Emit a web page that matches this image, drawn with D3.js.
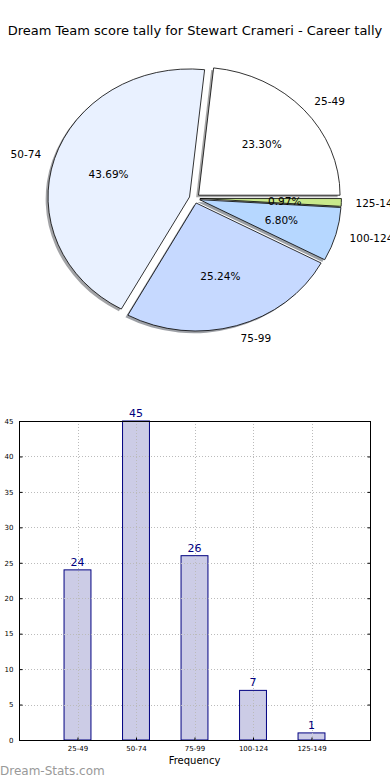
<!DOCTYPE html>
<html>
<head>
<meta charset="utf-8">
<script src="https://cdn.jsdelivr.net/npm/d3@7"></script>
<style>
  body { margin: 0; background: #fff; }
  text { font-family: "DejaVu Sans", sans-serif; }
</style>
</head>
<body>
<div id="chart"></div>
<script>
// data
const title = "Dream Team score tally for Stewart Crameri - Career tally";
const ranges = ["25-49", "50-74", "75-99", "100-124", "125-149"];
const counts = [24, 45, 26, 7, 1];
const pieColors = ["#ffffff", "#e9f1ff", "#c6d9ff", "#b6d7ff", "#c9e98c"];
const yTicks = [0, 5, 10, 15, 20, 25, 30, 35, 40, 45];

const W = 390, H = 780;
const svg = d3.select("#chart")
  .append("svg")
    .attr("width", W)
    .attr("height", H);

svg.append("text")
  .attr("x", W / 2)
  .attr("y", 35)
  .attr("text-anchor", "middle")
  .attr("font-size", 13)
  .text(title);

// ---- pie (matplotlib style: starts at 3 o'clock, counter clockwise, elliptical)
const cx = 194.6, cy = 198.4, rx = 141.5, ry = 128, explode = 0.0375;
const total = d3.sum(counts);

const pie = d3.pie()
  .sort(null)
  .startAngle(Math.PI / 2)
  .endAngle(Math.PI / 2 - 2 * Math.PI);
const arcs = pie(counts);
const arc = d3.arc().innerRadius(0).outerRadius(rx);

// point at angle a (d3 convention) and radius fraction k, on the ellipse
const pos = (a, k) => [cx + k * rx * Math.sin(a), cy - k * ry * Math.cos(a)];

const gPie = svg.append("g");

// shadows first
arcs.forEach((d, i) => {
  const mid = (d.startAngle + d.endAngle) / 2;
  const [ox, oy] = pos(mid, explode);
  const c = d3.rgb(pieColors[i]);
  const sc = d3.rgb(c.r * 0.3, c.g * 0.3, c.b * 0.3);
  gPie.append("path")
    .attr("d", arc(d))
    .attr("transform", `translate(${ox - 0.017 * rx},${oy + 0.017 * ry}) scale(1,${ry / rx})`)
    .attr("fill", sc)
    .attr("fill-opacity", 0.5)
    .attr("stroke", "none");
});

arcs.forEach((d, i) => {
  const mid = (d.startAngle + d.endAngle) / 2;
  const [ox, oy] = pos(mid, explode);
  gPie.append("path")
    .attr("d", arc(d))
    .attr("transform", `translate(${ox},${oy}) scale(1,${ry / rx})`)
    .attr("fill", pieColors[i])
    .attr("stroke", "#000")
    .attr("stroke-width", 0.8)
    .attr("vector-effect", "non-scaling-stroke");
});

// labels
arcs.forEach((d, i) => {
  const mid = (d.startAngle + d.endAngle) / 2;
  const [lx, ly] = pos(mid, 1.1 + explode);
  svg.append("text")
    .attr("x", lx)
    .attr("y", ly)
    .attr("dy", "0.35em")
    .attr("text-anchor", Math.sin(mid) > 0 ? "start" : "end")
    .attr("font-size", 10.5)
    .text(ranges[i]);
  const [px, py] = pos(mid, 0.6 + explode);
  svg.append("text")
    .attr("x", px)
    .attr("y", py)
    .attr("dy", "0.35em")
    .attr("text-anchor", "middle")
    .attr("font-size", 10.5)
    .text((d.value / total * 100).toFixed(2) + "%");
});

// ---- bar chart
const m = {left: 19, right: 370, top: 421, bottom: 740};
const x = d3.scaleLinear().domain([-1, 5]).range([m.left, m.right]);
const y = d3.scaleLinear().domain([0, 45]).range([m.bottom, m.top]);
const barW = 0.46;

const gBar = svg.append("g");

gBar.selectAll("rect.bar")
  .data(counts)
  .join("rect")
    .attr("class", "bar")
    .attr("x", (d, i) => x(i - barW / 2))
    .attr("y", d => y(d))
    .attr("width", x(barW) - x(0))
    .attr("height", d => y(0) - y(d))
    .attr("fill", "#ccccE6")
    .attr("stroke", "#000080")
    .attr("stroke-width", 1);

// grid
gBar.selectAll("line.hgrid")
  .data(yTicks)
  .join("line")
    .attr("x1", m.left).attr("x2", m.right)
    .attr("y1", d => Math.round(y(d)) + 0.5)
    .attr("y2", d => Math.round(y(d)) + 0.5)
    .attr("stroke", "#bbb")
    .attr("stroke-dasharray", "1,2");
gBar.selectAll("line.vgrid")
  .data(ranges)
  .join("line")
    .attr("x1", (d, i) => Math.round(x(i)) + 0.5)
    .attr("x2", (d, i) => Math.round(x(i)) + 0.5)
    .attr("y1", m.top).attr("y2", m.bottom)
    .attr("stroke", "#bbb")
    .attr("stroke-dasharray", "1,2");

// frame
gBar.append("rect")
  .attr("x", m.left + 0.5)
  .attr("y", m.top + 0.5)
  .attr("width", m.right - m.left)
  .attr("height", m.bottom - m.top)
  .attr("fill", "none")
  .attr("stroke", "#000");

// axes (ticks inward like old matplotlib)
const yAxisL = gBar.append("g")
  .attr("transform", `translate(${m.left + 0.5},0)`)
  .call(d3.axisLeft(y).tickValues(yTicks).tickSize(-3).tickPadding(6));
const yAxisR = gBar.append("g")
  .attr("transform", `translate(${m.right + 0.5},0)`)
  .call(d3.axisRight(y).tickValues(yTicks).tickSize(-3).tickFormat(""));
const xAxis = gBar.append("g")
  .attr("transform", `translate(0,${m.bottom + 0.5})`)
  .call(d3.axisBottom(x).tickValues(d3.range(ranges.length))
    .tickFormat(i => ranges[i]).tickSize(-3).tickPadding(6));
[yAxisL, yAxisR, xAxis].forEach(a => {
  a.select(".domain").remove();
  a.selectAll("text").attr("font-size", 7).attr("fill", "#000")
    .attr("font-family", "DejaVu Sans, sans-serif");
});

// bar value labels
gBar.selectAll("text.val")
  .data(counts)
  .join("text")
    .attr("class", "val")
    .attr("x", (d, i) => x(i))
    .attr("y", d => y(d) - 4)
    .attr("text-anchor", "middle")
    .attr("font-size", 11)
    .attr("fill", "#000080")
    .text(d => d);

svg.append("text")
  .attr("x", (m.left + m.right) / 2)
  .attr("y", 764)
  .attr("text-anchor", "middle")
  .attr("font-size", 10)
  .text("Frequency");

// watermark
svg.append("text")
  .attr("x", 0)
  .attr("y", 775)
  .attr("font-size", 12)
  .attr("fill", "#999")
  .text("Dream-Stats.com");
</script>
</body>
</html>
